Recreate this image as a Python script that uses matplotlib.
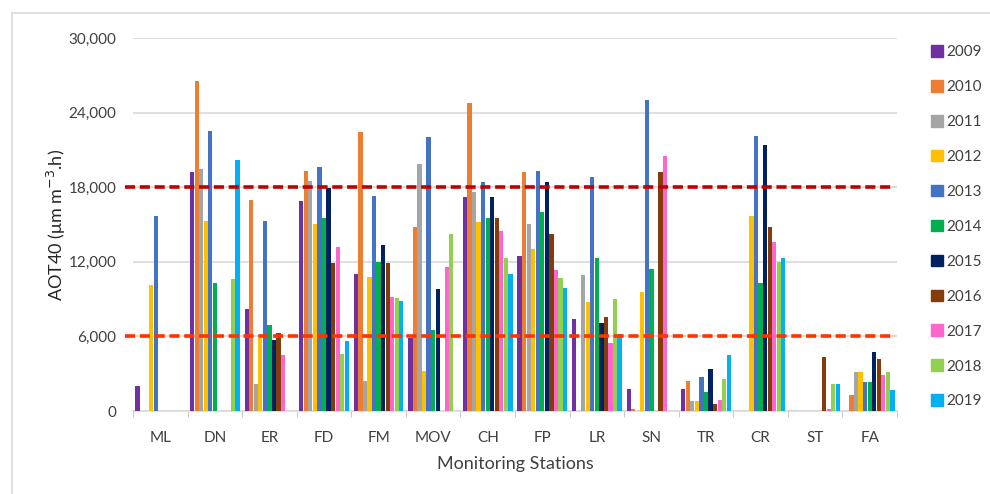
import matplotlib
matplotlib.use("Agg")
import matplotlib.pyplot as plt
import numpy as np
from matplotlib.patches import Patch
from matplotlib.lines import Line2D

plt.rcParams["font.family"] = ["Lato", "DejaVu Sans"]

stations = ["ML", "DN", "ER", "FD", "FM", "MOV", "CH", "FP", "LR", "SN", "TR", "CR", "ST", "FA"]
years = ["2009", "2010", "2011", "2012", "2013", "2014", "2015", "2016", "2017", "2018", "2019"]
colors = ["#7030A0", "#ED7D31", "#A5A5A5", "#FFC000", "#4472C4", "#00B050",
          "#002060", "#843C0C", "#FF66CC", "#92D050", "#00B0F0"]

# AOT40 values per year, one entry per station
aot_2009 = [2000, 19200, 8200, 16900, 11000, 5900, 17250, 12500, 7400, 1750, 1800, 0, 0, 0]
aot_2010 = [0, 26550, 17000, 19300, 22400, 14800, 24800, 19200, 0, 150, 2450, 0, 0, 1250]
aot_2011 = [0, 19450, 2200, 18500, 2400, 19900, 17600, 15000, 10900, 0, 800, 0, 0, 3150]
aot_2012 = [10100, 15300, 5900, 15000, 10800, 3250, 15200, 13000, 8750, 9550, 800, 15700, 0, 3100]
aot_2013 = [15700, 22550, 15300, 19650, 17300, 22000, 18400, 19300, 18850, 25000, 2700, 22100, 0, 2300]
aot_2014 = [0, 10300, 6900, 15500, 12000, 6500, 15550, 16000, 12300, 11400, 1500, 10300, 0, 2300]
aot_2015 = [0, 0, 5700, 17900, 13350, 9800, 17250, 18400, 7050, 0, 3350, 21400, 0, 4750]
aot_2016 = [0, 0, 6250, 11900, 11900, 0, 15550, 14200, 7600, 19200, 600, 14800, 4350, 4150]
aot_2017 = [0, 0, 4500, 13200, 9200, 11550, 14500, 11350, 5500, 20500, 900, 13600, 150, 2900]
aot_2018 = [0, 10600, 0, 4600, 9100, 14250, 12300, 10700, 9000, 0, 2600, 11950, 2200, 3150]
aot_2019 = [0, 20200, 0, 5600, 8850, 0, 11000, 9900, 6200, 0, 4500, 12300, 2200, 1700]
series = [aot_2009, aot_2010, aot_2011, aot_2012, aot_2013, aot_2014,
          aot_2015, aot_2016, aot_2017, aot_2018, aot_2019]

thresholds = [18000, 6000]
threshold_colors = ["#C00000", "#FF3300"]

fig = plt.figure(figsize=(9.9, 4.94), dpi=100)
ax = fig.add_axes([133 / 990, 83 / 494, 764 / 990, 373 / 494])

x = np.arange(len(stations))
w = 1 / 12
for i, (vals, c) in enumerate(zip(series, colors)):
    ax.bar(x - 0.5 + w * (i + 1), vals, width=w * 0.94, color=c, zorder=3)

for t, c in zip(thresholds, threshold_colors):
    ax.add_line(Line2D([-0.011, 0.998], [t, t], transform=ax.get_yaxis_transform(),
                       color=c, lw=2.6, ls=(0, (2.8, 1.3)), zorder=4, clip_on=False))

ax.set_xlim(-0.5, len(stations) - 0.5)
ax.set_ylim(0, 30000)
ax.set_yticks(np.arange(0, 30001, 6000))
ax.set_yticklabels([f"{v:,}" for v in range(0, 30001, 6000)])
ax.yaxis.grid(True, color="#D9D9D9", lw=1.2, zorder=0)
ax.set_xticks(x)
ax.set_xticklabels(stations)
ax.set_xticks(np.arange(-0.5, len(stations)), minor=True)
ax.tick_params(axis="x", which="major", length=0, pad=14.5, labelsize=11, labelcolor="#404040")
ax.tick_params(axis="x", which="minor", length=4, color="#BFBFBF")
ax.tick_params(axis="y", length=0, pad=12, labelsize=11, labelcolor="#404040")
for s in ["top", "right", "left"]:
    ax.spines[s].set_visible(False)
ax.spines["bottom"].set_color("#D9D9D9")
ax.spines["bottom"].set_linewidth(1.2)

ax.set_ylabel("AOT40 (μm m$^{-3}$.h)", fontsize=13, color="#262626", labelpad=0)
ax.set_xlabel("Monitoring Stations", fontsize=13, color="#404040", labelpad=8)

handles = [Patch(facecolor=c, edgecolor=c) for c in colors]
fig.legend(handles, years, loc="upper left", bbox_to_anchor=(931 / 990, 1 - 45 / 494),
           frameon=False, fontsize=11, handlelength=0.8, handleheight=0.8,
           handletextpad=0.2, labelspacing=1.36, borderpad=0, borderaxespad=0,
           labelcolor="#404040")

fig.add_artist(Line2D([12 / 990, 12 / 990], [0, 1 - 13 / 494], color="#D9D9D9", lw=1.2))
fig.add_artist(Line2D([12 / 990, 1], [1 - 13 / 494, 1 - 13 / 494], color="#D9D9D9", lw=1.2))

fig.savefig("out.png", dpi=100)
